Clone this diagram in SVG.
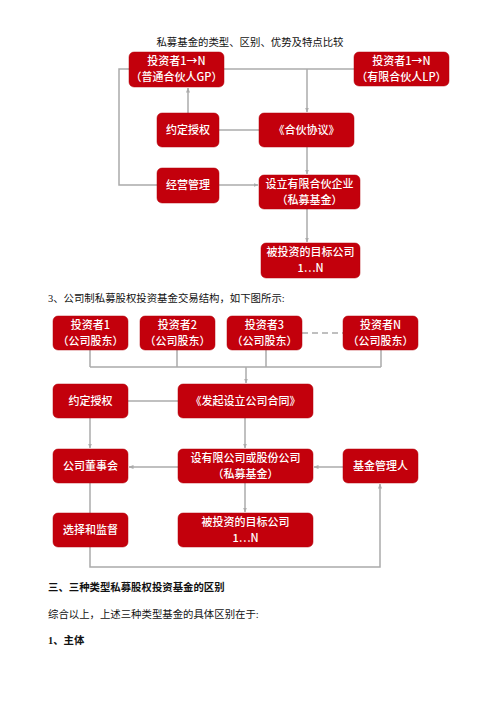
<svg xmlns="http://www.w3.org/2000/svg" width="500" height="708" viewBox="0 0 500 708">
<defs>
<style>
.box{fill:#c3000c;stroke:#b00008;stroke-width:0.5}
.bt{fill:#fff;font-family:"Noto Sans CJK SC","Liberation Sans",sans-serif;font-size:11px;font-weight:500;text-anchor:middle}
.ln{fill:none;stroke:#ababab;stroke-width:1.5}
.ar{fill:none;stroke:#ababab;stroke-width:1.5;marker-end:url(#ah)}
.tx{fill:#111;font-family:"Liberation Serif","Noto Sans CJK SC",serif;font-size:10.4px}
</style>
<marker id="ah" viewBox="0 0 10 10" refX="9" refY="5" markerWidth="5" markerHeight="5" orient="auto" markerUnits="userSpaceOnUse">
<path d="M0,1 L10,5 L0,9 z" fill="#ababab"/>
</marker>
</defs>
<rect width="500" height="708" fill="#fff"/>
<text class="tx" x="250" y="46" text-anchor="middle" font-size="10">私募基金的类型、区别、优势及特点比较</text>
<g id="connectors">
<path class="ln" d="M224,69 H354"/>
<path class="ar" d="M307,69 V112"/>
<path class="ln" d="M129,69 H119 V185 H157"/>
<path class="ar" d="M188,113 V88"/>
<path class="ln" d="M219,130 H259"/>
<path class="ar" d="M219,185 H258"/>
<path class="ar" d="M307,147 V174"/>
<path class="ar" d="M307,209 V242"/>
<path class="ln" d="M90,350 V367 M177,350 V367 M266,350 V367 M381,350 V367 M90,367 H381"/>
<path class="ar" d="M246,367 V383"/>
<path class="ln" d="M302,333 H343" stroke-dasharray="6,4"/>
<path class="ln" d="M128,401 H178"/>
<path class="ar" d="M90,418 V448"/>
<path class="ar" d="M245,418 V448"/>
<path class="ar" d="M178,467 H129"/>
<path class="ar" d="M343,467 H314"/>
<path class="ln" d="M90,483 V513"/>
<path class="ar" d="M245,483 V512"/>
<path class="ar" d="M90,547 V567 H380 V484"/>
</g>
<g id="gp"><rect class="box" x="129" y="52" width="95" height="35" rx="5"/><text class="bt" x="176.5" y="65">投资者1→N</text><text class="bt" x="176.5" y="81">（普通合伙人GP）</text></g>
<g id="lp"><rect class="box" x="354" y="52" width="95" height="34" rx="5"/><text class="bt" x="401.5" y="65">投资者1→N</text><text class="bt" x="401.5" y="81">（有限合伙人LP）</text></g>
<g id="auth1"><rect class="box" x="157" y="113" width="62" height="34" rx="5"/><text class="bt" x="188" y="134">约定授权</text></g>
<g id="agree1"><rect class="box" x="259" y="113" width="95" height="34" rx="5"/><text class="bt" x="306.5" y="134">《合伙协议》</text></g>
<g id="mgmt"><rect class="box" x="157" y="168" width="62" height="35" rx="5"/><text class="bt" x="188" y="189">经营管理</text></g>
<g id="lpent"><rect class="box" x="259" y="175" width="101" height="34" rx="5"/><text class="bt" x="309.5" y="188">设立有限合伙企业</text><text class="bt" x="309.5" y="204">（私募基金）</text></g>
<g id="target1"><rect class="box" x="261" y="243" width="99" height="35" rx="5"/><text class="bt" x="310.5" y="256">被投资的目标公司</text><text class="bt" x="310.5" y="272">1…N</text></g>
<text class="tx" x="48" y="302">3、公司制私募股权投资基金交易结构，如下图所示:</text>
<g id="inv1"><rect class="box" x="53" y="316" width="75" height="34" rx="5"/><text class="bt" x="90.5" y="329">投资者1</text><text class="bt" x="90.5" y="345">（公司股东）</text></g>
<g id="inv2"><rect class="box" x="140" y="316" width="75" height="34" rx="5"/><text class="bt" x="177.5" y="329">投资者2</text><text class="bt" x="177.5" y="345">（公司股东）</text></g>
<g id="inv3"><rect class="box" x="227" y="316" width="75" height="34" rx="5"/><text class="bt" x="264.5" y="329">投资者3</text><text class="bt" x="264.5" y="345">（公司股东）</text></g>
<g id="invN"><rect class="box" x="343" y="316" width="75" height="34" rx="5"/><text class="bt" x="380.5" y="329">投资者N</text><text class="bt" x="380.5" y="345">（公司股东）</text></g>
<g id="auth2"><rect class="box" x="53" y="384" width="75" height="34" rx="5"/><text class="bt" x="90.5" y="405">约定授权</text></g>
<g id="agree2"><rect class="box" x="178" y="384" width="135" height="34" rx="5"/><text class="bt" x="245.5" y="405">《发起设立公司合同》</text></g>
<g id="board"><rect class="box" x="53" y="449" width="75" height="34" rx="5"/><text class="bt" x="90.5" y="470">公司董事会</text></g>
<g id="corp"><rect class="box" x="178" y="449" width="135" height="34" rx="5"/><text class="bt" x="245.5" y="462">设有限公司或股份公司</text><text class="bt" x="245.5" y="478">（私募基金）</text></g>
<g id="manager"><rect class="box" x="343" y="449" width="75" height="34" rx="5"/><text class="bt" x="380.5" y="470">基金管理人</text></g>
<g id="supervise"><rect class="box" x="53" y="513" width="75" height="34" rx="5"/><text class="bt" x="90.5" y="534">选择和监督</text></g>
<g id="target2"><rect class="box" x="178" y="513" width="135" height="34" rx="5"/><text class="bt" x="245.5" y="526">被投资的目标公司</text><text class="bt" x="245.5" y="542">1…N</text></g>
<text class="tx" x="48" y="591" font-weight="bold">三、三种类型私募股权投资基金的区别</text>
<text class="tx" x="48" y="618">综合以上，上述三种类型基金的具体区别在于:</text>
<text class="tx" x="48" y="644" font-weight="bold">1、主体</text>
</svg>
